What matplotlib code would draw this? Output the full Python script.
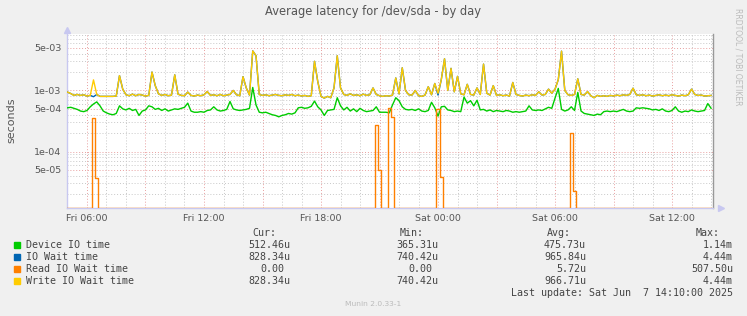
import matplotlib
matplotlib.use('Agg')
import numpy as np
import pandas as pd
import matplotlib.pyplot as plt
import matplotlib.dates as mdates
import matplotlib.ticker as mticker
from matplotlib.patches import Rectangle
from datetime import datetime

# ---------------- data (microseconds, 10-minute samples from Fri 05:00) ----------------
device_io_us = [
    520, 530, 510, 490, 460, 450, 470, 540, 600, 650,
    560, 460, 430, 410, 400, 420, 560, 500, 480, 510,
    470, 490, 390, 460, 480, 560, 540, 490, 510, 470,
    500, 460, 480, 500, 490, 510, 530, 620, 460, 440,
    440, 450, 440, 470, 480, 540, 480, 460, 470, 490,
    660, 500, 480, 470, 480, 490, 510, 1120, 580, 440,
    430, 440, 420, 400, 390, 370, 390, 400, 420, 410,
    430, 520, 530, 510, 520, 550, 670, 540, 480, 390,
    470, 480, 490, 760, 560, 480, 530, 460, 500, 450,
    510, 470, 450, 460, 470, 540, 440, 440, 440, 430,
    580, 760, 680, 540, 490, 480, 490, 470, 500, 460,
    450, 470, 640, 520, 380, 540, 550, 480, 470, 450,
    460, 450, 780, 620, 680, 560, 690, 480, 490, 460,
    480, 450, 470, 460, 450, 470, 460, 440, 450, 440,
    450, 460, 560, 480, 470, 480, 470, 500, 530, 510,
    750, 1080, 490, 460, 480, 540, 470, 930, 460, 420,
    410, 400, 390, 410, 400, 450, 460, 450, 460, 450,
    470, 490, 460, 450, 460, 520, 510, 520, 510, 500,
    480, 490, 470, 500, 460, 450, 470, 540, 460, 440,
    460, 450, 480, 460, 450, 460, 470, 610, 512,
]

io_wait_us = [
    940, 890, 830, 860, 830, 850, 810, 830, 790, 860,
    800, 800, 800, 800, 800, 810, 1750, 1050, 850, 820,
    870, 820, 860, 840, 810, 830, 2000, 1200, 880, 830,
    860, 820, 840, 1800, 870, 830, 820, 940, 830, 810,
    840, 820, 850, 960, 830, 850, 820, 860, 820, 840,
    860, 1000, 850, 820, 1680, 1100, 840, 4440, 3700, 860,
    830, 850, 820, 840, 860, 830, 820, 850, 830, 860,
    820, 840, 810, 830, 800, 820, 3000, 1400, 800, 750,
    800, 760, 1100, 3700, 1100, 860, 830, 880, 830, 850,
    820, 870, 830, 850, 1100, 860, 820, 800, 820, 810,
    840, 1600, 880, 2350, 1000, 850, 840, 1000, 820, 800,
    840, 1150, 850, 1300, 840, 1500, 3300, 1000, 2300, 950,
    1700, 880, 850, 1260, 860, 840, 1100, 860, 2700, 900,
    840, 1200, 830, 850, 820, 840, 810, 1350, 860, 830,
    810, 840, 820, 850, 830, 950, 840, 860, 1050, 900,
    1050, 1500, 4400, 1000, 850, 830, 860, 1550, 860, 840,
    960, 820, 760, 830, 800, 820, 800, 830, 810, 840,
    820, 850, 830, 860, 1090, 850, 830, 850, 820, 840,
    810, 830, 850, 820, 840, 820, 850, 830, 810, 840,
    820, 850, 1050, 860, 830, 840, 810, 820, 828,
]

read_io_wait_us = [
    0, 0, 0, 0, 0, 0, 0, 0, 360, 37,
    0, 0, 0, 0, 0, 0, 0, 0, 0, 0,
    0, 0, 0, 0, 0, 0, 0, 0, 0, 0,
    0, 0, 0, 0, 0, 0, 0, 0, 0, 0,
    0, 0, 0, 0, 0, 0, 0, 0, 0, 0,
    0, 0, 0, 0, 0, 0, 0, 0, 0, 0,
    0, 0, 0, 0, 0, 0, 0, 0, 0, 0,
    0, 0, 0, 0, 0, 0, 0, 0, 0, 0,
    0, 0, 0, 0, 0, 0, 0, 0, 0, 0,
    0, 0, 0, 0, 0, 270, 50, 0, 0, 507.5,
    370, 0, 0, 0, 0, 0, 0, 0, 0, 0,
    0, 0, 0, 0, 490, 39, 0, 0, 0, 0,
    0, 0, 0, 0, 0, 0, 0, 0, 0, 0,
    0, 0, 0, 0, 0, 0, 0, 0, 0, 0,
    0, 0, 0, 0, 0, 0, 0, 0, 0, 0,
    0, 0, 0, 0, 0, 200, 23, 0, 0, 0,
    0, 0, 0, 0, 0, 0, 0, 0, 0, 0,
    0, 0, 0, 0, 0, 0, 0, 0, 0, 0,
    0, 0, 0, 0, 0, 0, 0, 0, 0, 0,
    0, 0, 0, 0, 0, 0, 0, 0, 0,
]

write_io_wait_us = [
    940, 890, 830, 860, 830, 850, 810, 830, 1490, 860,
    800, 800, 800, 800, 800, 810, 1750, 1050, 850, 820,
    870, 820, 860, 840, 810, 830, 2000, 1200, 880, 830,
    860, 820, 840, 1800, 870, 830, 820, 940, 830, 810,
    840, 820, 850, 960, 830, 850, 820, 860, 820, 840,
    860, 1000, 850, 820, 1680, 1100, 840, 4440, 3700, 860,
    830, 850, 820, 840, 860, 830, 820, 850, 830, 860,
    820, 840, 810, 830, 800, 820, 3000, 1400, 800, 750,
    800, 760, 1100, 3700, 1100, 860, 830, 880, 830, 850,
    820, 870, 830, 850, 1100, 860, 820, 800, 820, 810,
    840, 1600, 880, 2350, 1000, 850, 840, 1000, 820, 800,
    840, 1150, 850, 1300, 900, 1500, 3300, 1000, 2300, 950,
    1700, 880, 850, 1260, 860, 840, 1100, 860, 2700, 900,
    840, 1200, 830, 850, 820, 840, 810, 1350, 860, 830,
    810, 840, 820, 850, 830, 950, 840, 860, 1050, 900,
    1050, 1500, 4400, 1000, 850, 830, 860, 1550, 860, 840,
    960, 820, 760, 830, 800, 820, 800, 830, 810, 840,
    820, 850, 830, 860, 1090, 850, 830, 850, 820, 840,
    810, 830, 850, 820, 840, 820, 850, 830, 810, 840,
    820, 850, 1050, 860, 830, 840, 810, 820, 828,
]

series_names = ["Device IO time", "IO Wait time", "Read IO Wait time", "Write IO Wait time"]
series_colors = ["#00CC00", "#0066B3", "#FF8000", "#FFCC00"]
cur_vals = ["512.46u", "828.34u", "0.00", "828.34u"]
min_vals = ["365.31u", "740.42u", "0.00", "740.42u"]
avg_vals = ["475.73u", "965.84u", "5.72u", "966.71u"]
max_vals = ["1.14m", "4.44m", "507.50u", "4.44m"]

start_time = "2025-06-06 05:00"
title = "Average latency for /dev/sda - by day"
last_update = "Last update: Sat Jun  7 14:10:00 2025"

# ---------------- figure ----------------
W, H = 747, 316
fig = plt.figure(figsize=(W / 100, H / 100), dpi=100, facecolor="#F0F0F0")
ax = fig.add_axes([67 / W, 108 / H, 646 / W, 174 / H])
ax.set_facecolor("white")

times = pd.date_range(start_time, periods=len(device_io_us), freq="10min").to_pydatetime()
ymin, ymax = 1.19e-5, 8.4e-3

ax.set_yscale("log")
ax.set_ylim(ymin, ymax)
ax.set_xlim(datetime(2025, 6, 6, 4, 58, 30), datetime(2025, 6, 7, 14, 6))

all_series = [device_io_us, io_wait_us, read_io_wait_us, write_io_wait_us]
styles = ["default", "default", "steps-mid", "default"]
for vals, col, ds in zip(all_series, series_colors, styles):
    v = np.asarray(vals, dtype=float) * 1e-6
    v = np.where(v > 0, v, ymin)
    ax.plot(times, v, color=col, lw=1.0, drawstyle=ds, zorder=3)

# grid
ax.xaxis.set_major_locator(mdates.HourLocator(byhour=range(0, 24, 3)))
ax.xaxis.set_minor_locator(mdates.HourLocator())


def xfmt(v, p):
    d = mdates.num2date(v)
    return d.strftime("%a %H:%M") if d.hour % 6 == 0 else ""


ax.xaxis.set_major_formatter(mticker.FuncFormatter(xfmt))
ax.yaxis.set_major_locator(mticker.LogLocator(base=10, subs=(1.0, 5.0), numticks=20))
ax.yaxis.set_minor_locator(mticker.LogLocator(base=10, subs=(2, 3, 4, 6, 7, 8, 9), numticks=20))
ax.yaxis.set_major_formatter(mticker.FuncFormatter(lambda v, p: "%.0e" % v))
ax.yaxis.set_minor_formatter(mticker.NullFormatter())

ax.grid(which="major", color="#E8A0A0", linestyle=(0, (1, 2)), lw=0.7)
ax.grid(which="minor", color="#C8C8C8", linestyle=(0, (1, 2)), lw=0.7)
ax.set_axisbelow(True)

ax.tick_params(which="both", length=0)
ax.tick_params(axis="x", labelsize=6.8, labelcolor="#555555", pad=4)
ax.tick_params(axis="y", labelsize=6.8, labelcolor="#555555", pad=4)

ax.spines["top"].set_visible(False)
ax.spines["left"].set_color("#C8C8F0")
ax.spines["bottom"].set_color("#C8C8F0")
ax.spines["right"].set_color("#999999")
for s in ["left", "bottom", "right"]:
    ax.spines[s].set_linewidth(1.0)

# axis arrows
fig.lines.append(plt.Line2D([67 / W], [1 - 29.5 / H], marker="^", ms=4, color="#C8C8F0",
                            transform=fig.transFigure))
fig.lines.append(plt.Line2D([720.5 / W], [1 - 208 / H], marker=">", ms=4, color="#C8C8F0",
                            transform=fig.transFigure))

# texts
fig.text(373 / W, 1 - 12 / H, title, ha="center", va="center", fontsize=8.3, color="#555555")
fig.text(11 / W, 1 - 120 / H, "seconds", rotation=90, ha="center", va="center",
         fontsize=8, color="#555555")
fig.text(738 / W, 1 - 57 / H, "RRDTOOL / TOBI OETIKER", rotation=270, ha="center",
         va="center", fontsize=5.5, color="#BBBBBB")

mono = dict(family="DejaVu Sans Mono", fontsize=7.2, color="#444444", va="center")
col_right = [290, 438, 586, 733]
header_right = [276, 424, 571, 720]
for hx, h in zip(header_right, ["Cur:", "Min:", "Avg:", "Max:"]):
    fig.text(hx / W, 1 - 233 / H, h, ha="right", **mono)

row_y = [245, 257, 269, 281]
for k in range(len(series_names)):
    y = row_y[k]
    fig.patches.append(Rectangle((14 / W, 1 - (y + 3) / H), 6 / W, 6 / H,
                                 transform=fig.transFigure, color=series_colors[k]))
    fig.text(26 / W, 1 - y / H, series_names[k], ha="left", **mono)
    for cx, vals in zip(col_right, [cur_vals, min_vals, avg_vals, max_vals]):
        s = vals[k]
        xr = cx if s[-1].isalpha() else cx - 6
        fig.text(xr / W, 1 - y / H, s, ha="right", **mono)

fig.text(733 / W, 1 - 293 / H, last_update, ha="right", **mono)
fig.text(373 / W, 1 - 304 / H, "Munin 2.0.33-1", ha="center", va="center",
         fontsize=5.4, color="#BBBBBB")

fig.savefig("out.png", dpi=100, facecolor=fig.get_facecolor())
